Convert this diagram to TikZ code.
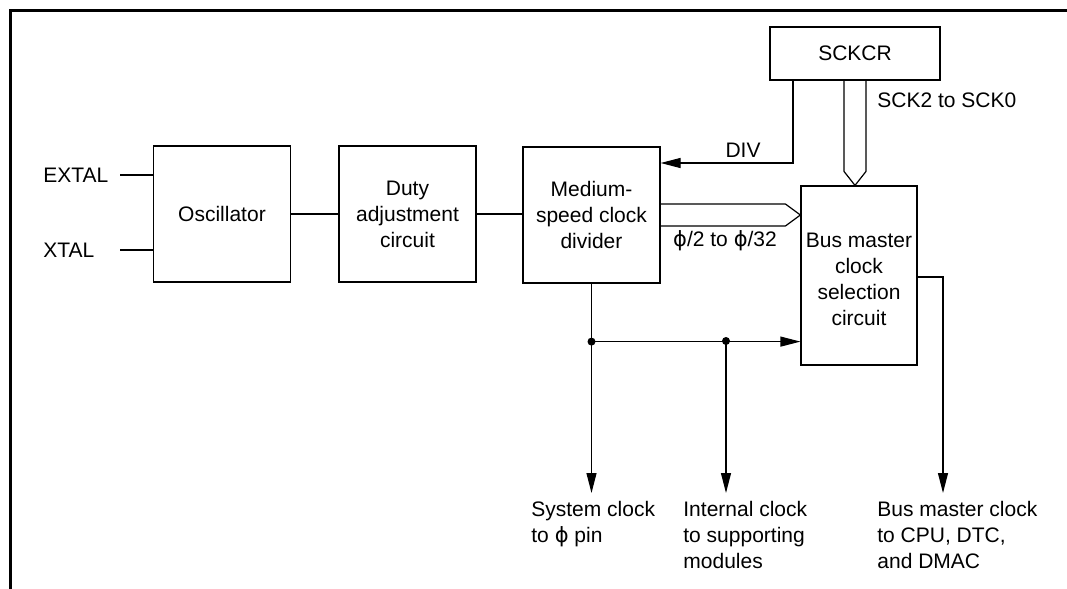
\documentclass[tikz,border=0pt]{standalone}
\usepackage{fontspec}
\setmainfont{Liberation Sans}
\newfontfamily\symfont{DejaVu Sans}
\newcommand{\phisym}{{\symfont ϕ}}
\usetikzlibrary{arrows.meta,calc}

\begin{document}
\begin{tikzpicture}[x=0.5pt,y=-0.5pt,
    font=\fontsize{10.5}{13}\selectfont,
    blk/.style={draw,line width=0.6pt,inner sep=0pt,align=center,
      minimum width=68.5pt,minimum height=68pt},
    wire/.style={line width=0.6pt},
    arr/.style={wire,-{Triangle[length=10pt,width=5pt]}},
    outarr/.style={arr,shorten >=4pt},
    junc/.style={circle,fill,inner sep=0pt,minimum size=4pt},
    outlbl/.style={anchor=north west,inner sep=0pt,align=left}]
    \useasboundingbox (0,0) rectangle (1067,589);

    % marco
    \draw[line width=1.5pt] (1067,10) -- (10,10) -- (10,589);

    % bloques
    \node[blk] (osc) at (222,214) {Oscillator};
    \node[blk] (duty) at (407.5,214) {Duty\\adjustment\\circuit};
    \node[blk] (mscd) at (591.5,215) {Medium-\\speed clock\\divider};
    \node[blk,minimum width=85pt,minimum height=26.5pt] (sckcr) at (855,53.5) {SCKCR};
    \node[blk,minimum width=58pt,minimum height=89.5pt] (bmcs) at (859,275.5)
      {\rule{0pt}{11pt}Bus master\\clock\\selection\\circuit};

    % entradas del oscilador
    \foreach \n/\t/\y in {extal/EXTAL/175,xtal/XTAL/250}{
      \node[anchor=west,inner sep=0pt] (\n) at (43,\y) {\t};
      \coordinate (p\n) at (120,\y);
      \draw[wire] (p\n) -- (osc.west |- p\n);
    }

    \draw[wire] (osc.east) -- (duty.west);
    \draw[wire] (duty.east) -- (mscd.west |- duty.east);

    % DIV
    \coordinate (divc) at (793,163);
    \draw[arr] (sckcr.south -| divc) -- (divc) -- (mscd.east |- divc);
    \node (div) at (743,150) {DIV};

    % bus SCK2 to SCK0
    \draw[wire] ($(sckcr.south)+(-11,0)$) -- ($(sckcr.south |- bmcs.north)+(-11,-14)$)
      -- (sckcr.south |- bmcs.north) -- ($(sckcr.south |- bmcs.north)+(11,-14)$)
      -- ($(sckcr.south)+(11,0)$);
    \node[anchor=west,inner sep=0pt] (scklbl) at (877,100) {SCK2 to SCK0};

    % bus phi/2 to phi/32
    \draw[wire] ($(mscd.east)+(0,-11)$) -- ($(mscd.east -| bmcs.west)+(-15,-11)$)
      -- (mscd.east -| bmcs.west) -- ($(mscd.east -| bmcs.west)+(-15,11)$)
      -- ($(mscd.east)+(0,11)$);
    \node[inner sep=0pt] (philbl) at (725,241) {\phisym/2 to \phisym/32};

    % salidas
    \node[outlbl] (sysclk) at (531,501) {System clock\\to \phisym{} pin};
    \node[outlbl] (intclk) at (683,501) {Internal clock\\to supporting\\modules};
    \node[outlbl] (busclk) at (877,501) {Bus master clock\\to CPU, DTC,\\and DMAC};

    \path (mscd.south) ++(0,58) coordinate (j1);
    \coordinate (j2) at (726,341);
    \node[junc] (d1) at (j1) {};
    \node[junc] (d2) at (j2) {};
    \draw[wire] (mscd.south) -- (j1);
    \draw[arr] (j1) -- (bmcs.west |- j1);
    \draw[outarr] (j1) -- (j1 |- sysclk.north);
    \draw[outarr] (j2) -- (j2 |- intclk.north);

    \coordinate (bo) at (943,277);
    \draw[outarr] (bmcs.east |- bo) -- (bo) -- (bo |- busclk.north);
  \end{tikzpicture}
\end{document}
